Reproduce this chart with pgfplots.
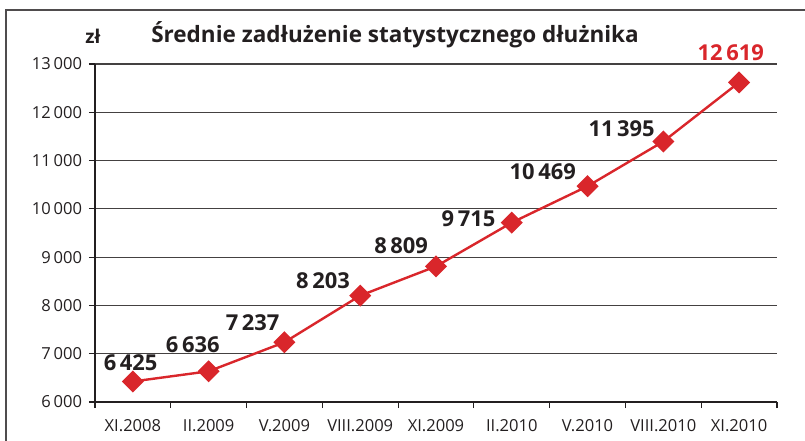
\documentclass[border=0pt]{standalone}
\usepackage{pgfplots}
\pgfplotsset{compat=1.18}
\usepackage{fontspec}
\setmainfont{Open Sans}
\definecolor{lred}{HTML}{D9262B}
\definecolor{ink}{HTML}{231F20}
\begin{document}
\begin{tikzpicture}[x=1bp,y=1bp]
\useasboundingbox (0,0) rectangle (402.5,220.5);
\draw[color=ink!80, line width=0.8bp] (3,0) -- (3,215.5) -- (402.5,215.5);
\begin{axis}[
  at={(47.5bp,19.5bp)}, anchor=south west,
  scale only axis, width=341bp, height=169bp,
  xmin=-0.5, xmax=8.5, ymin=6000, ymax=13000,
  axis x line*=bottom, axis y line*=left,
  axis line style={color=ink, line width=0.6bp, -},
  xtick={0,...,8},
  xticklabels={XI.2008,II.2009,V.2009,VIII.2009,XI.2009,II.2010,V.2010,VIII.2010,XI.2010},
  major x tick style={draw=none},
  minor xtick={-0.5,0.5,...,8.5},
  minor tick length=3bp,
  minor x tick style={color=ink, line width=0.6bp},
  ytick={6000,7000,...,13000},
  scaled y ticks=false,
  major tick length=3bp,
  tick align=outside,
  y tick style={color=ink, line width=0.6bp},
  ymajorgrids, grid style={color=ink!85, line width=0.6bp},
  tick label style={font=\fontsize{8.3}{10}\selectfont, color=ink},
  xticklabel style={yshift=-2bp},
  /pgf/number format/assume math mode=true,
  /pgf/number format/1000 sep={\,},
  clip=false,
]
\addplot[color=lred, line width=1.2bp, mark=square*, mark size=3.3bp, mark options={fill=lred, draw=lred, rotate=45}]
coordinates {(0,6425) (1,6636) (2,7237) (3,8203) (4,8809) (5,9715) (6,10469) (7,11395) (8,12619)};
\begin{scope}[every node/.style={font=\bfseries\fontsize{11}{12}\selectfont, color=ink}]
\node at (axis cs:-0.03,6807) {6\,425};
\node at (axis cs:0.79,7180) {6\,636};
\node at (axis cs:1.58,7636) {7\,237};
\node at (axis cs:2.51,8505) {8\,203};
\node at (axis cs:3.54,9230) {8\,809};
\node at (axis cs:4.43,9789) {9\,715};
\node at (axis cs:5.41,10762) {10\,469};
\node at (axis cs:6.45,11652) {11\,395};
\node[color=lred] at (axis cs:7.89,13226) {12\,619};
\end{scope}
\end{axis}
\node[font=\bfseries\fontsize{11.3}{14}\selectfont, color=ink] at (197.5,203) {Średnie zadłużenie statystycznego dłużnika};
\node[font=\bfseries\fontsize{9.5}{11}\selectfont, color=ink] at (46.5,202.5) {zł};
\end{tikzpicture}
\end{document}
